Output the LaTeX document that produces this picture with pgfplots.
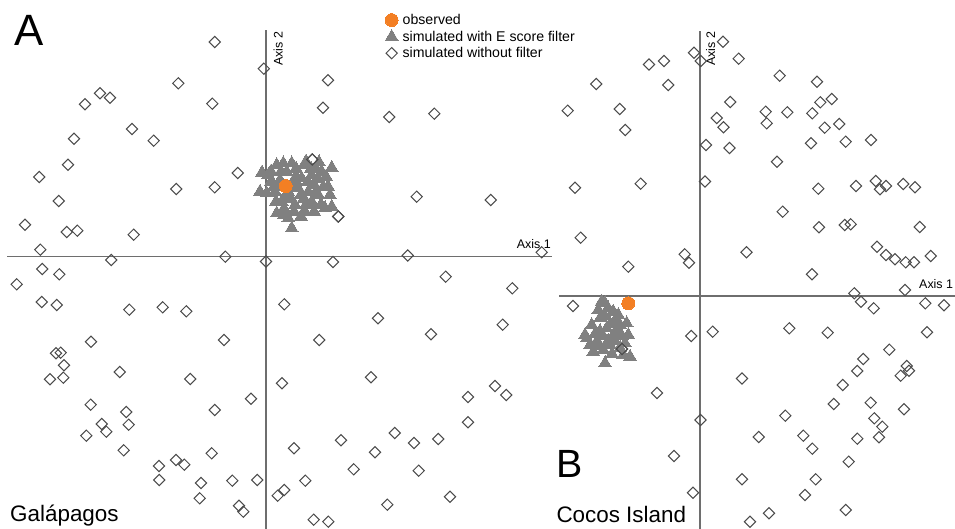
\documentclass[border=0pt]{standalone}
\usepackage{pgfplots}
\pgfplotsset{compat=1.18}
\usepackage{fontspec}
\setmainfont{Liberation Sans}
\definecolor{axgray}{RGB}{110,110,110}
\definecolor{dgray}{RGB}{75,75,75}
\definecolor{tgray}{RGB}{128,128,128}
\definecolor{obsorange}{RGB}{243,127,36}
\pgfplotsset{
  panel/.style={scale only axis, axis lines=middle, axis line style={-, draw=axgray, line width=1.1pt},
    xtick=\empty, ytick=\empty, clip=false, x=1bp, y=1bp, enlargelimits=false, anchor=south west},
  dia/.style={only marks, color=dgray, mark=square, mark size=4.0, mark options={rotate=45, draw=dgray, fill=white, line width=1pt}},
  tri/.style={only marks, color=tgray, mark=triangle*, mark size=7.4, mark options={fill=tgray, draw=tgray, line width=0pt}},
  obs/.style={only marks, color=obsorange, mark=*, mark size=6.5, mark options={fill=obsorange, draw=obsorange, line width=0pt}},
}
\pgfplotstableread{
x y
-51.3 214.5
-2.2 187.8
-87.7 173.2
-166 163.2
-156 158.8
-181 152.2
-53.7 152.8
-134 127.5
-112.3 115.8
-192 117.8
-198 91.8
-226.7 79.5
-28.3 83.5
-89.7 67.5
-51.3 69.2
-207.3 55.5
-241 31.8
-199.3 24.5
-188.7 25.8
-132.3 21.8
-225.7 6.8
-154.7 -3.5
-40.7 -0.2
0 -5
62 176.2
57 148.8
123.3 139.5
168.3 142.8
46.3 97
150.7 59.8
224.7 56.5
72.3 40
141.7 1
275.7 4.2
67 -5.5
-223.7 -12.5
-206.7 -17.8
-249.3 -27.8
-224.3 -45.5
-209.3 -48.5
-136.7 -53.2
-103.3 -50.8
-79.7 -54.8
-175 -85.2
-42 -83.5
-210 -96.8
-205.3 -96.2
-202 -108.8
-216 -122.8
-202.7 -121.2
-146.3 -115.5
-75.7 -122.5
-15 -142.2
-175.3 -148.2
-51.3 -153.5
-139.7 -155.5
-137.3 -168.2
-164.3 -167.5
-159.7 -175.2
-179.7 -179.2
-142.3 -193.8
-54.3 -196.8
-107 -209.5
-90 -203.5
-81.7 -208.2
-106.7 -223.5
-65 -226.5
-33.7 -224.2
-8.7 -223.5
-66.3 -241.8
-27 -249.2
-22.7 -255.2
179.7 -20.2
246.3 -31.8
18.3 -47.8
112 -61.8
165 -77.8
236.7 -68.2
53.3 -83.5
16 -126.8
105 -120.8
229 -129.5
240.3 -138.5
202 -140.5
202 -165.8
128.7 -176.5
148 -186.5
172.3 -182.5
75 -183.8
28 -191.8
109 -195.8
87.7 -212.8
152.7 -214.2
39.3 -224.2
18.3 -233.5
11.7 -239.2
184 -240.2
121.3 -248.2
47.7 -263.2
62.3 -265.2
}\diaA
\pgfplotstableread{
x y
65.7 88.8
53 94.2
38.3 91.5
25.7 93.2
17.3 93.2
10.7 91.5
2.3 81.5
-6 64.8
0.7 63.2
10.7 43.2
22.3 38.2
25.7 28.2
39 44.8
59 48.2
65.7 49.8
57.3 69.8
52.3 61.5
45.7 81.5
14 76.5
32.3 68.2
15.7 54.8
45.7 54.8
29 51.5
35.7 78.2
9 64.8
42.3 64.8
64 61.5
20.7 84.8
55.7 84.8
25 70
20 60
30 80
48 72
38 58
12 70
5 75
28 45
50 88
18 48
40 95
-4 84
5 85
15 85
30 88
45 88
60 80
8 70
22 65
35 62
50 65
62 70
10 55
25 58
40 52
55 52
18 42
35 40
48 45
30 75
42 75
52 78
}\triA
\pgfplotstableread{
x y
-6 243.3
0.7 235
23 254.3
38.7 237.3
-51 231.5
-36 235
-103.7 212
-31.7 211
-132.3 185.3
-80.3 187
-74.7 166
30.3 194
16.7 178
23.5 168.7
6 151
29.5 148
-125 108.3
-59.3 112.3
5 114.5
-119.3 58.3
46.5 43.8
-15.3 41.7
-11 33.3
-71.7 29.3
79.7 220.3
117 214.3
120.3 193.7
131.7 197
65.7 184.3
87.3 183.7
112.3 182.7
66.7 172.7
124.7 168.3
139.3 172
111 152.7
145.7 154.3
171 156
77 134.3
118.3 107.3
156 110
175.7 115
180 106.7
186 110
203.3 112
215 108.7
82.7 84.3
119 68.7
144.7 71
150.7 71.7
219.7 69
177 49.3
186 41
195 36.7
205.7 33.7
214 33.7
230.7 40
112 21.7
154.3 2.7
205 6
161 -5.7
173.7 -12.3
225.3 -7.3
244 -9.3
-127 -10
-8.7 -40
12.7 -35.7
-78 -53
42 -82.5
-43 -97
0.5 -124
-26 -160
42 -183.3
-7 -196.7
50 -225.7
89.3 -32.3
127.7 -36.7
227 -36.3
189.3 -53.7
163.3 -63
157.3 -75
206.7 -70
209 -74.7
200.7 -79.7
142.7 -89
133.7 -108
170.7 -106.7
204 -113.3
85.3 -119.7
174.3 -122.3
182.3 -130.7
58.7 -141
103.3 -139.7
112.3 -152.7
157.3 -142.7
179 -141.3
148.7 -165.7
115.7 -183.3
105 -199
69 -217.3
145.7 -214
}\diaB
\pgfplotstableread{
x y
-98.3 -5.7
-95 -7.3
-101.7 -14
-86.7 -15.7
-81.7 -19
-73.3 -27.3
-108.3 -29
-115 -39
-113.3 -42.3
-71.7 -39
-106.7 -55.7
-95 -67.3
-70 -60.7
-76.7 -59
-93.3 -32.3
-100 -22.3
-86.7 -39
-103.3 -45.7
-90 -49
-80 -29
-96.7 -54
-75 -47.3
-110 -49
-95 -20
-90 -28
-85 -45
-100 -35
-82 -35
-88 -58
-78 -40
-92 -12
-85 -25
-97 -40
-105 -38
-80 -52
-92 -45
-100 -50
}\triB
\begin{document}
\begin{tikzpicture}
\path[use as bounding box] (0,0) rectangle (955bp,529bp);
% Panel A
\begin{axis}[panel, at={(7.3bp,0bp)}, xmin=-258.7, xmax=286, ymin=-272.5, ymax=226.5,
  legend style={at={(axis cs:119,243.5)}, anchor=north west, draw=none, fill=none,
    font=\fontsize{14.2}{16}\selectfont, inner sep=0pt, row sep=2.6pt,
    nodes={inner sep=1pt},
    /tikz/every odd column/.append style={column sep=3.5pt}},
  legend cell align=left,
  legend image code/.code={\draw[#1] plot coordinates {(0.12cm,0cm)};}]
\addlegendimage{obs}
\addlegendentry{observed}
\addlegendimage{tri}
\addlegendentry{simulated with E score filter}
\addlegendimage{dia}
\addlegendentry{simulated without filter}
\addplot[dia, forget plot] table {\diaA};
\addplot[tri, forget plot] table {\triA};
\addplot[dia, forget plot] coordinates {(46.3,97) (72.3,40)};
\addplot[obs, forget plot] coordinates {(19.7,70.5)};
\node[anchor=north west, inner sep=0pt, font=\fontsize{44}{44}\selectfont] at (axis cs:-252,241.5) {A};
\node[anchor=base west, inner sep=0pt, font=\fontsize{22.5}{24}\selectfont] at (axis cs:-256,-265.2) {Galápagos};
\node[anchor=base east, inner sep=0pt, font=\fontsize{12.5}{13}\selectfont] at (axis cs:285,8.2) {Axis 1};
\node[rotate=90, anchor=north east, inner sep=0pt, font=\fontsize{12.5}{13}\selectfont] at (axis cs:7.3,224.8) {Axis 2};
\end{axis}
% Panel B
\begin{axis}[panel, at={(559bp,0bp)}, xmin=-141, xmax=255, ymin=-233, ymax=265.3]
\addplot[dia] table {\diaB};
\addplot[tri] table {\triB};
\addplot[dia] coordinates {(-78,-53)};
\addplot[obs] coordinates {(-71.7,-7.3)};
\node[anchor=north west, inner sep=0pt, font=\fontsize{39.5}{40}\selectfont] at (axis cs:-143.7,-154) {B};
\node[anchor=base west, inner sep=0pt, font=\fontsize{22.5}{24}\selectfont] at (axis cs:-143.7,-226.7) {Cocos Island};
\node[anchor=base east, inner sep=0pt, font=\fontsize{12.5}{13}\selectfont] at (axis cs:253.3,7.7) {Axis 1};
\node[rotate=90, anchor=north east, inner sep=0pt, font=\fontsize{12.5}{13}\selectfont] at (axis cs:6,264.3) {Axis 2};
\end{axis}
\end{tikzpicture}
\end{document}
